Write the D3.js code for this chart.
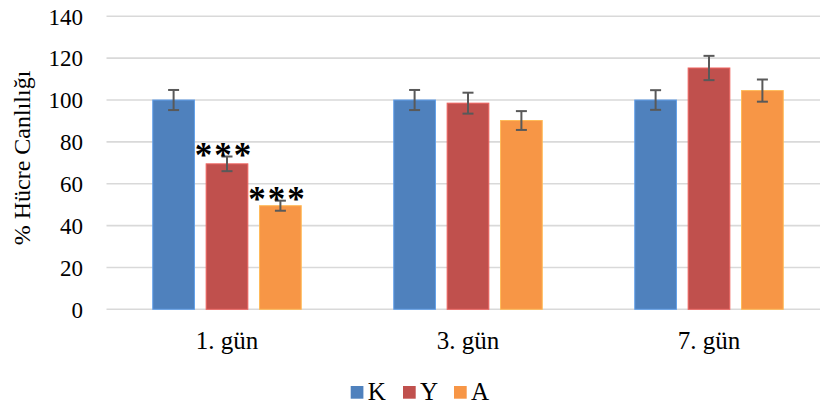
<!DOCTYPE html>
<html>
<head>
<meta charset="utf-8">
<script src="https://cdn.jsdelivr.net/npm/d3@7"></script>
<style>
  html, body { margin: 0; padding: 0; background: #fff; }
  svg { display: block; }
  text { font-family: "Liberation Serif", "Times New Roman", serif; fill: #000; }
</style>
</head>
<body>
<svg id="chart" width="820" height="406"></svg>
<script>
// Cell viability (%) per day for the three groups
const days = ["1. gün", "3. gün", "7. gün"];
const groups = ["K", "Y", "A"];
const colors = ["#4F81BD", "#C0504D", "#F79646"];
const valuesK = [100, 100, 100];
const valuesY = [69.5, 98.5, 115.3];
const valuesA = [49.5, 90.2, 104.5];
const errorsK = [4.8, 4.8, 4.7];
const errorsY = [3.5, 5, 5.8];
const errorsA = [2.4, 4.5, 5.3];
// significance marks: [day index, group index, label]
const marks = [[0, 1, "***"], [0, 2, "***"]];
const yTicks = [0, 20, 40, 60, 80, 100, 120, 140];
const yTitle = "% Hücre Canlılığı";

const values = [valuesK, valuesY, valuesA];
const errors = [errorsK, errorsY, errorsA];
const serif = "Liberation Serif, Times New Roman, serif";

const svg = d3.select("#chart");
const plotLeft = 106.5, plotRight = 829.5, plotTop = 16.3, plotBottom = 309.3;

const x0 = d3.scaleBand().domain(days).range([plotLeft, plotRight]).paddingInner(0).paddingOuter(0);
const groupWidth = 148.5;
const x1 = d3.scaleBand().domain(groups).range([0, groupWidth]).paddingInner(0.219).paddingOuter(0);
const y = d3.scaleLinear().domain([0, 140]).range([plotBottom, plotTop]);

// gridlines
svg.append("g")
  .selectAll("line")
  .data(yTicks)
  .join("line")
  .attr("x1", plotLeft)
  .attr("x2", 820)
  .attr("y1", d => y(d))
  .attr("y2", d => y(d))
  .attr("stroke", "#d9d9d9")
  .attr("stroke-width", 1.6);

// y axis labels
const yAxis = d3.axisLeft(y).tickValues(yTicks).tickSize(0).tickPadding(0);
const gy = svg.append("g").attr("transform", `translate(83,0)`).call(yAxis);
gy.select(".domain").remove();
gy.selectAll("text")
  .attr("font-family", serif)
  .attr("font-size", 23)
  .attr("fill", "#000")
  .attr("dy", "0.34em");

// y axis title
svg.append("text")
  .attr("transform", `translate(30,158) rotate(-90)`)
  .attr("text-anchor", "middle")
  .attr("font-family", serif)
  .attr("font-size", 24)
  .text(yTitle);

// x axis labels
const xAxis = d3.axisBottom(x0).tickSize(0).tickPadding(0);
const gx = svg.append("g").attr("transform", `translate(0,${plotBottom})`).call(xAxis);
gx.select(".domain").remove();
gx.selectAll("text")
  .attr("font-family", serif)
  .attr("font-size", 25)
  .attr("fill", "#000")
  .attr("y", 40)
  .attr("dy", 0);

const barData = [];
days.forEach((d, i) => {
  groups.forEach((g, j) => {
    barData.push({ day: d, group: g, gi: j, value: values[j][i], err: errors[j][i] });
  });
});
const groupOffset = (x0.bandwidth() - groupWidth) / 2;
const bx = d => x0(d.day) + groupOffset + x1(d.group);

// bars
svg.append("g")
  .selectAll("rect")
  .data(barData)
  .join("rect")
  .attr("x", bx)
  .attr("y", d => y(d.value))
  .attr("width", x1.bandwidth())
  .attr("height", d => plotBottom - y(d.value))
  .attr("fill", d => colors[d.gi])
  .attr("stroke", d => d3.color(colors[d.gi]).brighter(0.6))
  .attr("stroke-width", 1);

// error bars
const capW = 11;
const eb = svg.append("g").attr("stroke", "#595959").attr("stroke-width", 2);
barData.forEach(d => {
  const cx = bx(d) + x1.bandwidth() / 2;
  eb.append("line").attr("x1", cx).attr("x2", cx).attr("y1", y(d.value + d.err)).attr("y2", y(d.value - d.err));
  eb.append("line").attr("x1", cx - capW / 2).attr("x2", cx + capW / 2).attr("y1", y(d.value + d.err)).attr("y2", y(d.value + d.err));
  eb.append("line").attr("x1", cx - capW / 2).attr("x2", cx + capW / 2).attr("y1", y(d.value - d.err)).attr("y2", y(d.value - d.err));
});

// significance asterisks, placed just above each bar's error cap
svg.append("g")
  .selectAll("text")
  .data(marks)
  .join("text")
  .attr("x", m => x0(days[m[0]]) + groupOffset + x1(groups[m[1]]) + x1.bandwidth() / 2 - 3)
  .attr("y", m => y(values[m[1]][m[0]] + errors[m[1]][m[0]]) + 10)
  .attr("text-anchor", "middle")
  .attr("font-family", serif)
  .attr("font-weight", "bold")
  .attr("font-size", 35)
  .attr("letter-spacing", 2)
  .text(m => m[2]);

// legend
const legendX = [350.7, 403, 454];
const lg = svg.append("g");
groups.forEach((g, j) => {
  lg.append("rect").attr("x", legendX[j]).attr("y", 386).attr("width", 12.7).attr("height", 12.7).attr("fill", colors[j]);
  lg.append("text").attr("x", legendX[j] + 17).attr("y", 400).attr("font-family", serif).attr("font-size", 25).text(g);
});
</script>
</body>
</html>
